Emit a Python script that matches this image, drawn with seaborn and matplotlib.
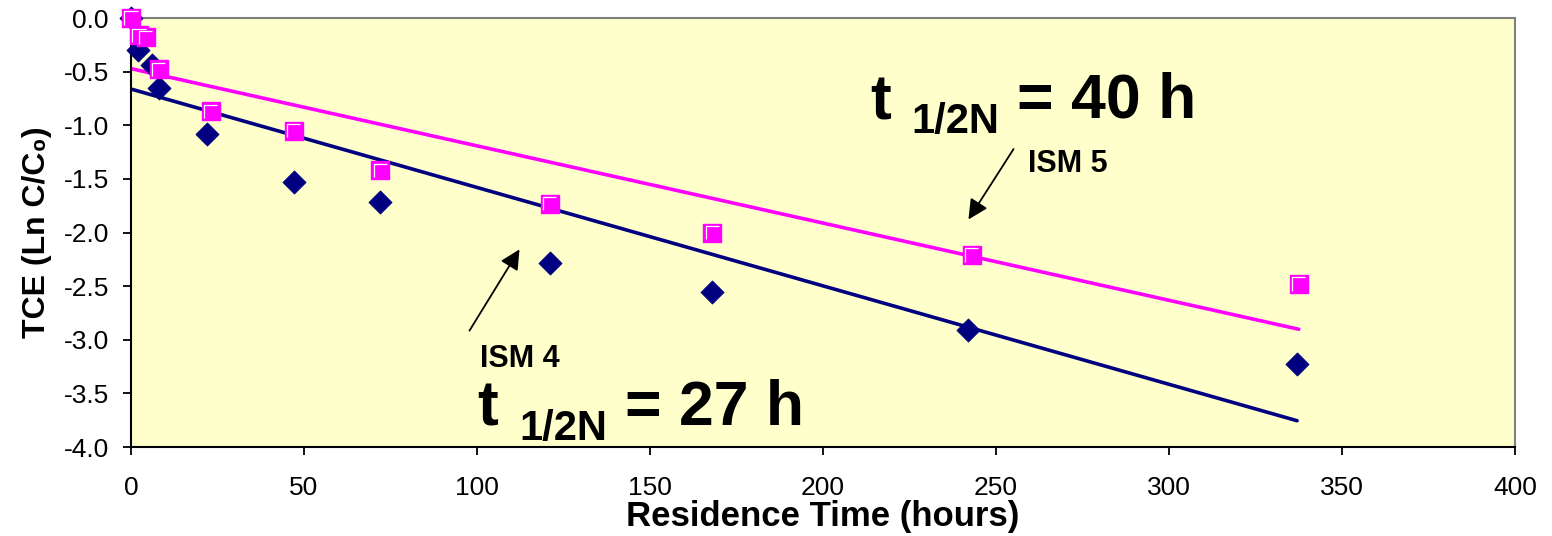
import matplotlib
matplotlib.use("Agg")
import matplotlib.pyplot as plt
from matplotlib.path import Path
import seaborn as sns
import pandas as pd

# ISM 4 (navy diamonds)
ism4_time = [0, 2, 6, 8, 22, 47, 72, 121, 168, 242, 337]
ism4_ln = [0.0, -0.30, -0.44, -0.65, -1.08, -1.53, -1.72, -2.28, -2.55, -2.91, -3.23]

# ISM 5 (magenta squares)
ism5_time = [0, 2.3, 4.3, 8, 23, 47, 72, 121, 168, 243, 337.5]
ism5_ln = [0.0, -0.16, -0.18, -0.48, -0.87, -1.05, -1.42, -1.73, -2.0, -2.21, -2.48]

x_ticks = [0, 50, 100, 150, 200, 250, 300, 350, 400]
y_ticks = [-4.0, -3.5, -3.0, -2.5, -2.0, -1.5, -1.0, -0.5, 0.0]

NAVY = "#000080"
MAGENTA = "#FF00FF"

sns.set_theme(style="ticks")
plt.rcParams["font.family"] = ["Liberation Sans", "DejaVu Sans"]

df4 = pd.DataFrame({"time": ism4_time, "ln": ism4_ln})
df5 = pd.DataFrame({"time": ism5_time, "ln": ism5_ln})

fig = plt.figure(figsize=(15.52, 5.36), dpi=100)
ax = fig.add_axes([0.0844, 0.166, 0.8918, 0.8004])
ax.set_facecolor("#FFFFCC")

# trend lines (least squares over the data range)
sns.regplot(data=df4, x="time", y="ln", ax=ax, scatter=False, ci=None,
            truncate=True, line_kws={"color": NAVY, "lw": 2.6, "zorder": 2})
sns.regplot(data=df5, x="time", y="ln", ax=ax, scatter=False, ci=None,
            truncate=True, line_kws={"color": MAGENTA, "lw": 2.6, "zorder": 2})

sns.scatterplot(data=df4, x="time", y="ln", ax=ax, marker="D", s=140,
                color=NAVY, edgecolor=NAVY, linewidth=0.5, zorder=3, clip_on=False)
sns.scatterplot(data=df5, x="time", y="ln", ax=ax, marker="s", s=180,
                color=MAGENTA, edgecolor=MAGENTA, linewidth=1.0, zorder=4, clip_on=False)
# little white bevel on the upper-left edge of each square
bevel = Path([(-1, -1), (-1, 1), (1, 1)], [Path.MOVETO, Path.LINETO, Path.LINETO])
sns.scatterplot(data=df5, x="time", y="ln", ax=ax, marker=bevel, s=90,
                facecolor="none", edgecolor="white", linewidth=0.9, zorder=5, clip_on=False)

ax.set_xlim(0, 400)
ax.set_ylim(-4.0, 0.0)
ax.set_xticks(x_ticks)
ax.set_yticks(y_ticks)
ax.set_yticklabels([f"{v:.1f}" for v in y_ticks])
ax.tick_params(axis="both", labelsize=19, direction="out", length=6, width=1.3,
               color="black", labelcolor="black")
ax.tick_params(axis="x", pad=15)
ax.tick_params(axis="y", pad=10)
ax.grid(False)

for side in ["left", "bottom"]:
    ax.spines[side].set_color("black")
    ax.spines[side].set_linewidth(1.5)
for side in ["top", "right"]:
    ax.spines[side].set_visible(True)
    ax.spines[side].set_color("#808080")
    ax.spines[side].set_linewidth(1.5)

ax.set_xlabel("Residence Time (hours)", fontsize=25, fontweight="bold",
              labelpad=0, color="black")
ax.set_ylabel("TCE (Ln C/C\u2080)", fontsize=23, fontweight="bold",
              labelpad=8, color="black")

# half-life annotations
big = dict(fontsize=45, fontweight="bold", va="baseline", color="black")
sub = dict(fontsize=30, fontweight="bold", va="baseline", color="black")
ax.text(213.6, -0.95, "t", **big)
ax.text(225.4, -1.07, "1/2N", **sub)
ax.text(256.0, -0.93, "= 40 h", **big)

ax.text(100.0, -3.795, "t", **big, clip_on=False)
ax.text(112.1, -3.93, "1/2N", **sub, clip_on=False)
ax.text(142.8, -3.795, "= 27 h", **big, clip_on=False)

ax.text(259.2, -1.436, "ISM 5", fontsize=22, fontweight="bold", va="baseline",
        color="black")
ax.annotate("", xy=(241.6, -1.90), xytext=(255.5, -1.20),
            arrowprops=dict(arrowstyle="-|>", color="black", lw=1.3,
                            mutation_scale=30))
ax.text(100.9, -3.254, "ISM 4", fontsize=22, fontweight="bold", va="baseline",
        color="black")
ax.annotate("", xy=(112.7, -2.135), xytext=(97.4, -2.937),
            arrowprops=dict(arrowstyle="-|>", color="black", lw=1.3,
                            mutation_scale=30))

fig.savefig("out.png", dpi=100, facecolor="white")
